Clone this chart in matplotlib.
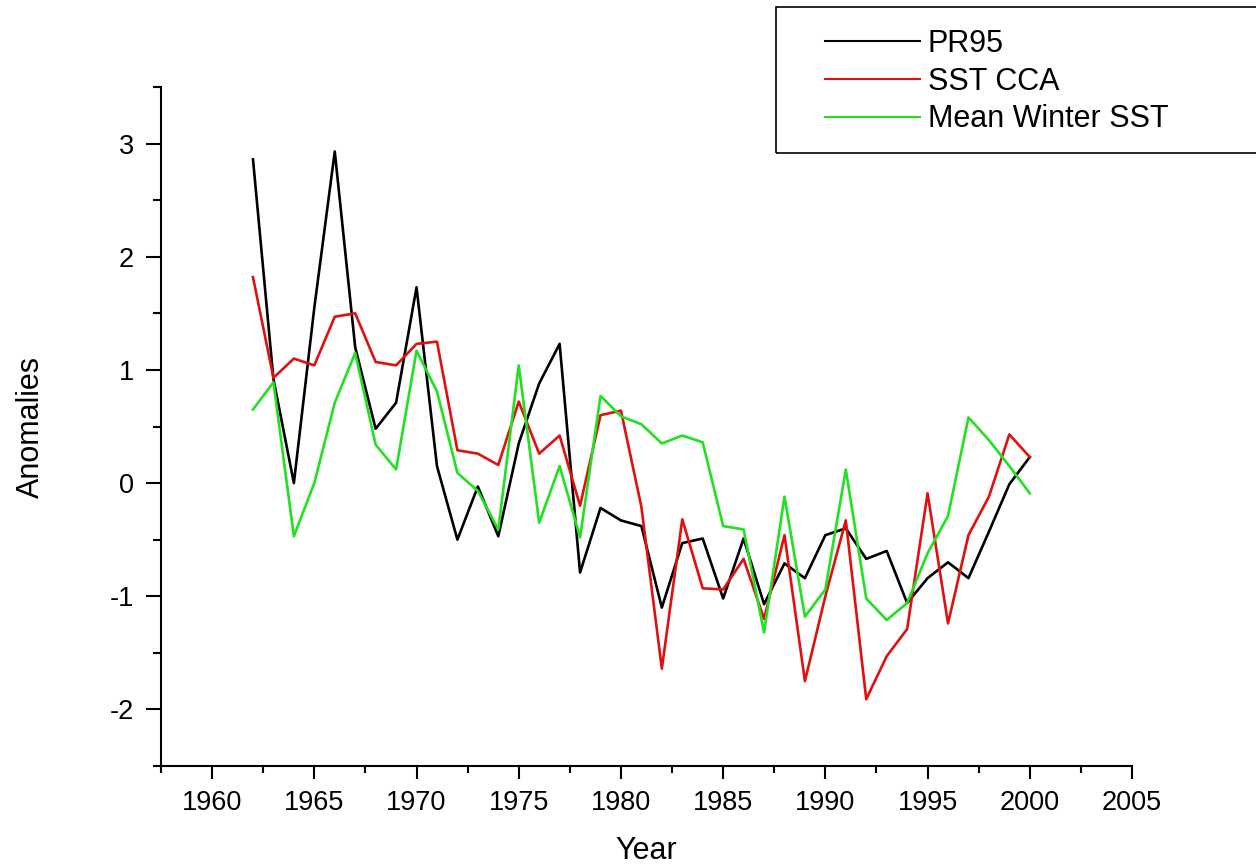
import matplotlib
matplotlib.use("Agg")
import matplotlib.pyplot as plt
from matplotlib.patches import Rectangle
from matplotlib.ticker import MultipleLocator

plt.rcParams['font.family'] = ['Liberation Sans', 'DejaVu Sans']
plt.rcParams['axes.unicode_minus'] = False

# anomalies, 1962-2000
years = list(range(1962, 2001))
pr95 = [2.86, 0.92, 0.0, 1.55, 2.93, 1.2, 0.48, 0.71, 1.73, 0.15,
        -0.5, -0.03, -0.47, 0.35, 0.88, 1.23, -0.79, -0.22, -0.33, -0.38,
        -1.10, -0.53, -0.49, -1.02, -0.49, -1.07, -0.71, -0.84, -0.46, -0.40,
        -0.67, -0.60, -1.06, -0.84, -0.70, -0.84, -0.43, -0.01, 0.23]
sst_cca = [1.82, 0.93, 1.10, 1.04, 1.47, 1.50, 1.07, 1.04, 1.23, 1.25,
           0.29, 0.26, 0.16, 0.72, 0.26, 0.42, -0.20, 0.60, 0.64, -0.21,
           -1.64, -0.32, -0.93, -0.94, -0.67, -1.20, -0.46, -1.75, -1.00, -0.33,
           -1.91, -1.53, -1.29, -0.09, -1.24, -0.46, -0.12, 0.43, 0.23]
winter_sst = [0.65, 0.89, -0.47, 0.0, 0.71, 1.15, 0.34, 0.12, 1.17, 0.81,
              0.09, -0.07, -0.41, 1.04, -0.35, 0.15, -0.48, 0.77, 0.59, 0.52,
              0.35, 0.42, 0.36, -0.38, -0.41, -1.32, -0.12, -1.18, -0.94, 0.12,
              -1.02, -1.21, -1.06, -0.62, -0.29, 0.58, 0.38, 0.15, -0.09]
labels = ["PR95", "SST CCA", "Mean Winter SST"]

fig = plt.figure(figsize=(12.56, 8.64), dpi=100)
ax = fig.add_axes([161 / 1256, 1 - 766 / 864, (1132 - 161) / 1256, (766 - 87) / 864])

l1, = ax.plot(years, pr95, color="black", lw=1.9)
l2, = ax.plot(years, sst_cca, color="#e01010", lw=1.9)
l3, = ax.plot(years, winter_sst, color="#22e022", lw=1.9)

ax.set_xlim(1957.5, 2005)
ax.set_ylim(-2.5, 3.5)
ax.xaxis.set_major_locator(MultipleLocator(5))
ax.xaxis.set_minor_locator(MultipleLocator(2.5))
ax.yaxis.set_major_locator(MultipleLocator(1))
ax.yaxis.set_minor_locator(MultipleLocator(0.5))
for s in ["top", "right"]:
    ax.spines[s].set_visible(False)
for s in ["left", "bottom"]:
    ax.spines[s].set_linewidth(1.5)
ax.tick_params(axis="x", which="major", direction="out", length=9.5, width=1.5, labelsize=19.5, pad=8)
ax.tick_params(axis="x", which="minor", direction="out", length=5, width=1.5)
ax.tick_params(axis="y", which="major", direction="out", length=10.5, width=1.5, labelsize=19.5, pad=9)
ax.tick_params(axis="y", which="minor", direction="out", length=6, width=1.5)
ax.set_xlabel("Year", fontsize=22, labelpad=14)
ax.set_ylabel("Anomalies", fontsize=22, labelpad=46)

# legend box runs off the right edge
fig.add_artist(Rectangle((776 / 1256, 1 - 153 / 864), 500 / 1256, 146 / 864,
                         transform=fig.transFigure, fill=False, lw=1.2, ec="black"))
fig.legend([l1, l2, l3], labels, loc="upper left", bbox_to_anchor=(825 / 1256, 1 - 29 / 864),
           frameon=False, borderpad=0, fontsize=22, handlelength=3.1, handletextpad=0.26,
           labelspacing=0.25, borderaxespad=0)
for h in fig.legends[0].get_lines():
    h.set_linewidth(1.5)

fig.savefig("out.png", dpi=100)
